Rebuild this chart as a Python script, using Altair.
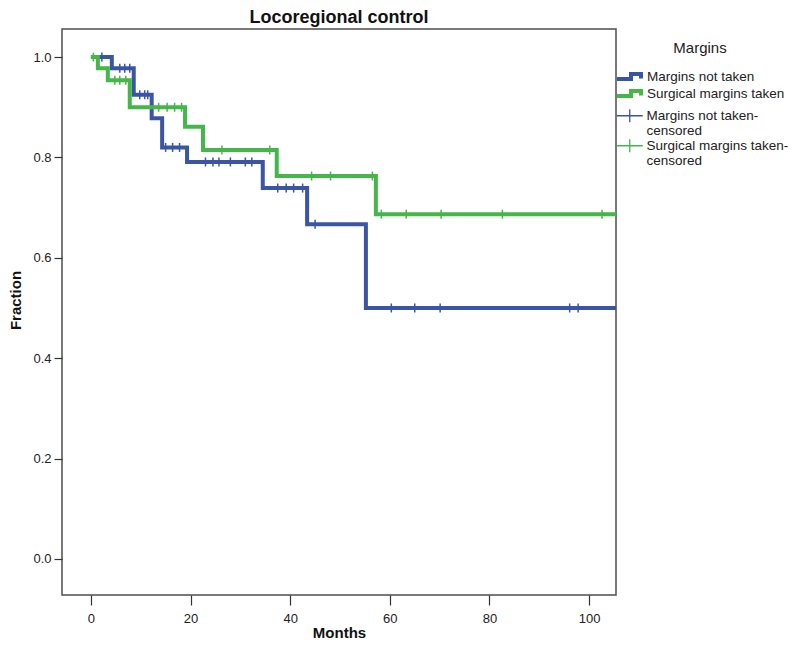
import altair as alt
import pandas as pd

groups = ["Margins not taken", "Surgical margins taken"]
line_colors = ["#3a55a6", "#45b649"]

# Kaplan-Meier step curves (time in months, fraction)
blue_t = [0, 4.2, 8.6, 12.2, 14.3, 19.3, 34.5, 43.4, 55.2, 106]
blue_s = [1.0, 0.978, 0.925, 0.878, 0.82, 0.791, 0.739, 0.667, 0.50, 0.50]
green_t = [0, 1.4, 3.4, 7.8, 18.9, 22.5, 37.3, 57.2, 106]
green_s = [1.0, 0.978, 0.954, 0.90, 0.861, 0.815, 0.763, 0.687, 0.687]

# censored observation times
blue_cens = [2.2, 5.8, 6.8, 7.8, 9.8, 10.8, 11.4, 15.0, 16.4, 17.8, 23.0, 24.5,
             25.7, 28.0, 31.0, 32.3, 37.5, 39.2, 40.7, 42.5, 45.0, 60.3, 65.0,
             70.1, 96.1, 97.8]
green_cens = [0.5, 4.8, 5.8, 7.0, 13.6, 15.3, 16.8, 18.2, 26.3, 35.9, 44.3, 48.1,
              56.5, 58.3, 63.3, 70.3, 82.6, 102.6]

cens_items = ["Margins not taken-censored", "Surgical margins taken-censored"]
step_icon = "M-1,0.4L1.8,0.4L1.8,-0.6L3.8,-0.6L3.8,0.3"
cens_icon = "M-1,-0.13L4.2,-0.13L4.2,0.13L-1,0.13Z M1.47,-1.3L1.73,-1.3L1.73,1.3L1.47,1.3Z"


def level(ts, ss, t):
    v = ss[0]
    for ti, si in zip(ts, ss):
        if ti <= t:
            v = si
    return v


curve_rows = []
for g, ts, ss in [(groups[0], blue_t, blue_s), (groups[1], green_t, green_s)]:
    for t, s in zip(ts, ss):
        curve_rows.append({"group": g, "t": t, "s": s})
curve_df = pd.DataFrame(curve_rows)

cens_rows = []
for g, ts, ss, cs in [(groups[0], blue_t, blue_s, blue_cens),
                      (groups[1], green_t, green_s, green_cens)]:
    for c in cs:
        cens_rows.append({"group": g, "t": c, "s": level(ts, ss, c)})
cens_df = pd.DataFrame(cens_rows)

FONT = "Arial, Liberation Sans, sans-serif"

x_scale = alt.Scale(domain=[-5.8, 105.4], nice=False, zero=False)
y_scale = alt.Scale(domain=[-0.072, 1.056], nice=False, zero=False)
stroke_scale = alt.Scale(domain=groups, range=line_colors)

x_axis = alt.Axis(values=[0, 20, 40, 60, 80, 100], grid=False, domain=False,
                  tickSize=10, tickColor="#333", tickWidth=1.2, labelPadding=7,
                  labelFontSize=13, labelColor="#222", labelFont=FONT,
                  titleFont=FONT, titleFontSize=15, titleFontWeight="bold",
                  titleColor="#111", titleBaseline="middle", titleY=37)
y_axis = alt.Axis(values=[0, 0.2, 0.4, 0.6, 0.8, 1.0], format=".1f", grid=False,
                  domain=False, tickSize=8, tickColor="#333", tickWidth=1.2,
                  labelPadding=3, labelFontSize=13, labelColor="#222",
                  labelFont=FONT, titleFont=FONT, titleFontSize=15,
                  titleFontWeight="bold", titleColor="#111",
                  titleBaseline="middle", titleX=-47, titleY=271)

common = dict(
    orient="none", legendX=553, symbolSize=100,
    labelOffset=18, labelFontSize=13.5, labelColor="#222", labelFont=FONT,
    labelLimit=300, padding=0, labelBaseline="middle",
)

line_legend = alt.Legend(title="Margins", legendY=12, symbolType=step_icon,
                         symbolStrokeWidth=4, symbolFillColor="transparent",
                         titleFont=FONT, titleFontSize=15,
                         titleFontWeight="normal", titleColor="#222",
                         titleAnchor="middle", titlePadding=14,
                         rowPadding=-5, **common)

lines = alt.Chart(curve_df).mark_line(
    interpolate="step-after", strokeWidth=4, clip=True
).encode(
    x=alt.X("t:Q", scale=x_scale, axis=x_axis, title="Months"),
    y=alt.Y("s:Q", scale=y_scale, axis=y_axis, title="Fraction"),
    stroke=alt.Stroke("group:N", scale=stroke_scale, legend=line_legend),
    order="t:Q",
)

cens = alt.Chart(cens_df).mark_point(
    shape="M0,-1L0,1", size=81, strokeWidth=1.5, filled=False, opacity=1, clip=True
).encode(
    x=alt.X("t:Q", scale=x_scale),
    y=alt.Y("s:Q", scale=y_scale),
    stroke=alt.Stroke("group:N", scale=stroke_scale, legend=line_legend),
)

# second legend block: censored marks
legend_cens = alt.Chart(pd.DataFrame({"item": cens_items})).mark_point(
    filled=True, opacity=1
).encode(
    color=alt.Color("item:N", scale=alt.Scale(domain=cens_items, range=line_colors),
                    legend=alt.Legend(title=None, legendY=80, symbolType=cens_icon,
                                      symbolStrokeWidth=0, rowPadding=0,
                                      labelExpr="[replace(datum.label, '-censored', '-'), 'censored']",
                                      **common)),
).transform_filter("false")

chart = alt.layer(lines, cens, legend_cens).properties(
    width=554, height=566,
    title=alt.Title("Locoregional control", font=FONT, fontSize=18,
                    fontWeight="bold", color="#111", anchor="middle", offset=2),
    autosize=alt.AutoSizeParams(type="none"),
    padding={"left": 54, "top": 21, "right": 176, "bottom": 45},
).configure_view(fill="#f2f2f2", stroke="#4d4d4d", strokeWidth=1.5)

chart.save("out.html", embed_options={"renderer": "svg", "actions": False})
